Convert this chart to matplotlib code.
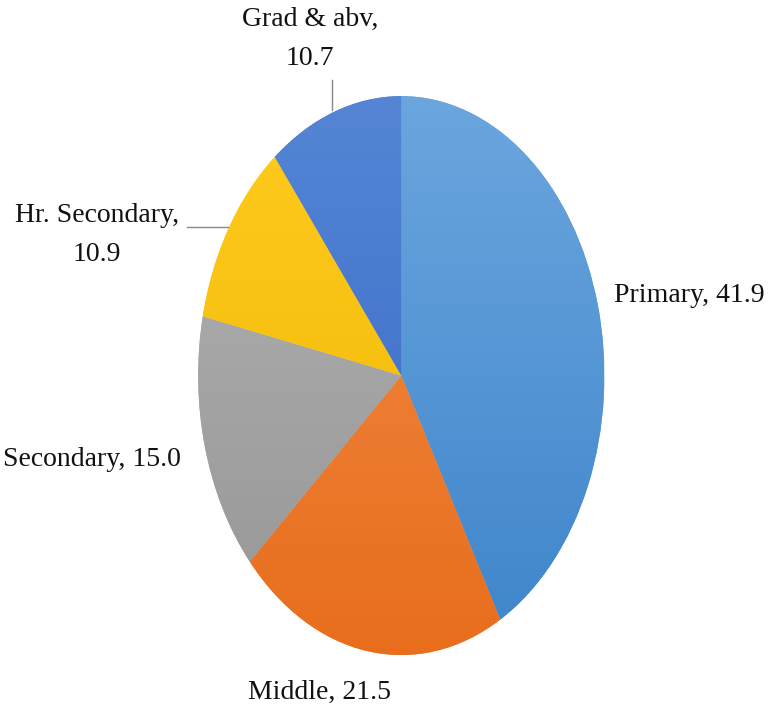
import matplotlib
matplotlib.use("Agg")
import matplotlib.pyplot as plt
import numpy as np
from matplotlib.colors import LinearSegmentedColormap

categories = ["Primary", "Middle", "Secondary", "Hr. Secondary", "Grad & abv"]
values = [41.9, 21.5, 15.0, 10.9, 10.7]
top_colors = ["#6BA6DE", "#F28C4A", "#B3B3B3", "#FFCB1F", "#5585D4"]
bot_colors = ["#3E85CB", "#E86E1C", "#969696", "#EDB600", "#3868C6"]

plt.rcParams['font.family'] = ['Liberation Serif', 'DejaVu Serif']

fig = plt.figure(figsize=(7.68, 7.12), dpi=100)
ax = fig.add_axes([0.258, 0.080, 0.529, 0.785])
wedges, _ = ax.pie(values, startangle=90, counterclock=False,
                   colors=top_colors, wedgeprops=dict(edgecolor='none'))
ax.set_aspect('auto')

grad = np.linspace(1, 0, 256).reshape(-1, 1)
for w, c1, c2 in zip(wedges, top_colors, bot_colors):
    cmap = LinearSegmentedColormap.from_list("g", [c2, c1])
    im = ax.imshow(grad, extent=[-1, 1, -1, 1], cmap=cmap, aspect='auto',
                   origin='upper', zorder=w.get_zorder() + 0.1, vmin=0, vmax=1)
    im.set_clip_path(w)

ax.set_xlim(-1, 1)
ax.set_ylim(-1, 1)

fs = 20

def label(x, y, s, ha='center'):
    fx, fy = x / 768, (712 - y) / 712
    fig.text(fx, fy, s, ha=ha, va='center', fontsize=fs, color='#111111',
             linespacing=1.75)

label(310, 39, f"{categories[4]},\n{values[4]}")
label(97, 235, f"{categories[3]},\n{values[3]}")
label(689, 295, f"{categories[0]}, {values[0]}")
label(92, 459, f"{categories[2]}, {values[2]}")
label(320, 692, f"{categories[1]}, {values[1]}")

# leader lines
fig.add_artist(plt.Line2D([332 / 768, 332 / 768], [(712 - 80) / 712, (712 - 110) / 712],
                          color='#888888', lw=1))
fig.add_artist(plt.Line2D([187 / 768, 228 / 768], [(712 - 227) / 712, (712 - 227) / 712],
                          color='#888888', lw=1))

fig.savefig("out.png", dpi=100, facecolor='white')
